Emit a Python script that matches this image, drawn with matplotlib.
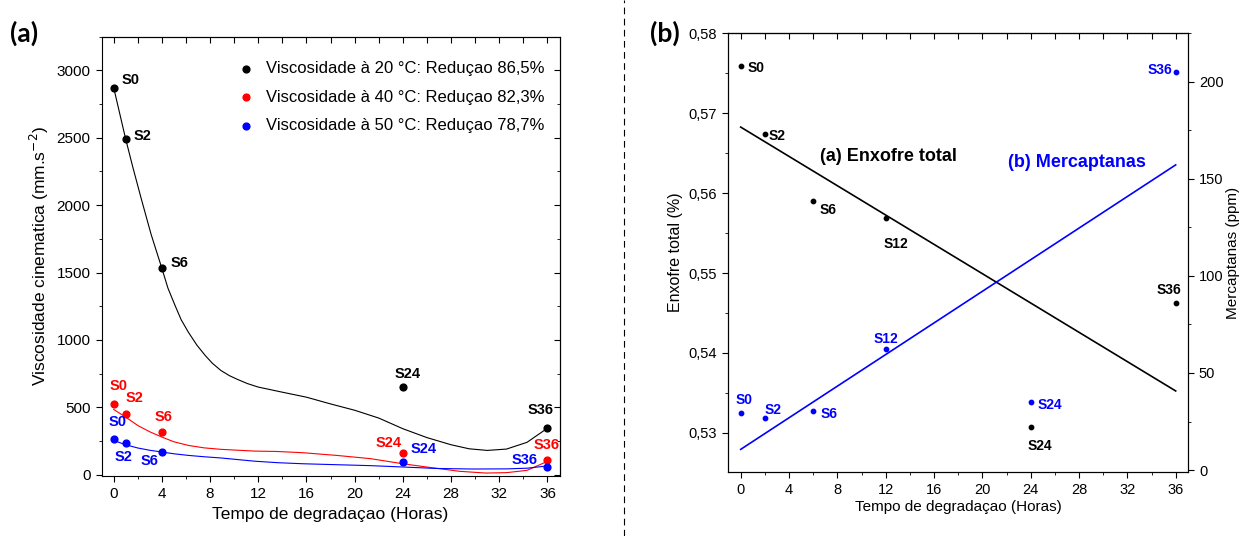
import numpy as np
import matplotlib.pyplot as plt
from matplotlib.lines import Line2D
from matplotlib.ticker import MultipleLocator, FuncFormatter

plt.rcParams['font.family'] = ['Liberation Sans', 'DejaVu Sans']

# (a) viscosity data
horas_a = [0, 1, 4, 24, 36]
labels_a = ['S0', 'S2', 'S6', 'S24', 'S36']
visc_20 = [2872, 2489, 1531, 654, 350]
visc_40 = [524, 447, 316, 163, 106]
visc_50 = [264, 232, 170, 94, 60]

# smoothed curves of the original figure
curva_20_x = [0, 1, 1.6, 2.3, 3.1, 4, 4.5, 5.1, 5.6, 6.2, 6.9, 7.6, 8.2, 8.9, 9.6, 10.3, 11.1, 12, 14, 16, 18, 20, 22, 24, 26, 28, 29.5, 31, 32.6, 34.3, 36]
curva_20_y = [2872, 2489, 2278, 2044, 1785, 1531, 1385, 1254, 1150, 1057, 962, 884, 826, 773, 735, 706, 676, 650, 612, 575, 525, 478, 420, 341, 275, 222, 192, 180, 190, 240, 345]
curva_40_x = [0, 1, 2, 3, 4, 5, 6.2, 7.5, 8.9, 11.7, 13.6, 15.7, 18.5, 21.3, 24, 26.2, 27.1, 28.7, 30.9, 32.6, 34.3, 36]
curva_40_y = [484, 427, 365, 318, 279, 244, 217, 199, 188, 175, 172, 163, 143, 119, 81, 54, 44, 25, 12, 15, 32, 99]
curva_50_x = [0, 1, 2, 3, 4, 5, 6.2, 7.5, 8.9, 11.7, 13.6, 15.7, 18.5, 21.3, 24, 26.8, 29.8, 32.6, 34.3, 36]
curva_50_y = [254, 222, 198, 181, 168, 155, 143, 133, 124, 100, 89, 81, 74, 67, 57, 46, 42, 43, 48, 65]

# (b) sulfur / mercaptans
horas_b = np.array([0, 2, 6, 12, 24, 36])
labels_b = ['S0', 'S2', 'S6', 'S12', 'S24', 'S36']
enxofre = np.array([0.5759, 0.5674, 0.5590, 0.5569, 0.5307, 0.5463])
mercaptanas = np.array([29.6, 26.7, 30.3, 62.4, 35.3, 205.3])

fig = plt.figure(figsize=(12.47, 5.36), dpi=100)
ax1 = fig.add_axes([0.0815, 0.1119, 0.3672, 0.8196])
ax2 = fig.add_axes([0.5838, 0.1194, 0.3687, 0.8185])

# ---------- panel (a)
series = [(visc_20, curva_20_x, curva_20_y, 'black', 'Viscosidade à 20 °C: Reduçao 86,5%'),
          (visc_40, curva_40_x, curva_40_y, 'red', 'Viscosidade à 40 °C: Reduçao 82,3%'),
          (visc_50, curva_50_x, curva_50_y, 'blue', 'Viscosidade à 50 °C: Reduçao 78,7%')]
for vals, cx, cy, col, lab in series:
    ax1.plot(cx, cy, color=col, lw=0.8)
    ax1.scatter(horas_a, vals, s=24, color=col, zorder=3, label=lab)

# label offsets in pixels (dx, dy, ha)
off_20 = [(8, 8, 'left'), (8, 3, 'left'), (9, 5, 'left'), (5, 13, 'center'), (-7, 18, 'center')]
off_40 = [(5, 18, 'center'), (9, 16, 'center'), (2, 15, 'center'), (-14, 10, 'center'), (-1, 15, 'center')]
off_50 = [(4, 17, 'center'), (-2, -14, 'center'), (-12, -9, 'center'), (21, 13, 'center'), (-23, 7, 'center')]
for vals, col, offs in [(visc_20, 'black', off_20), (visc_40, 'red', off_40), (visc_50, 'blue', off_50)]:
    for xv, yv, lab, (dx, dy, ha) in zip(horas_a, vals, labels_a, offs):
        ax1.annotate(lab, (xv, yv), xytext=(dx, dy), textcoords='offset pixels',
                     ha=ha, va='center', fontsize=10.5, fontweight='bold', color=col)

ax1.set_xlim(-1, 37)
ax1.set_ylim(-10, 3250)
ax1.xaxis.set_major_locator(MultipleLocator(4))
ax1.xaxis.set_minor_locator(MultipleLocator(2))
ax1.yaxis.set_major_locator(MultipleLocator(500))
ax1.yaxis.set_minor_locator(MultipleLocator(250))
ax1.tick_params(which='both', direction='out', labelsize=11)
ax1.tick_params(which='major', length=4.5)
ax1.tick_params(which='minor', length=2.5)
ax1.set_xlabel('Tempo de degradaçao (Horas)', fontsize=12.5)
ax1.set_ylabel('Viscosidade cinematica (mm.s$^{-2}$)', fontsize=12.5)
ax1.legend(loc='upper right', bbox_to_anchor=(0.968, 0.945), frameon=False, fontsize=12,
           handlelength=0.8, handletextpad=0.8, borderpad=0, borderaxespad=0, labelspacing=0.82)

top = ax1.secondary_xaxis('top')
top.xaxis.set_major_locator(MultipleLocator(2))
top.tick_params(direction='in', labeltop=False, length=4.5)
right = ax1.secondary_yaxis('right')
right.yaxis.set_major_locator(MultipleLocator(500))
right.yaxis.set_minor_locator(MultipleLocator(250))
right.tick_params(which='both', direction='in', labelright=False)
right.tick_params(which='major', length=4.5)
right.tick_params(which='minor', length=2.5)

# ---------- panel (b)
ax3 = ax2.twinx()
p1 = np.polyfit(horas_b, enxofre, 1)
p2 = np.polyfit(horas_b, mercaptanas, 1)
xl = np.array([horas_b.min(), horas_b.max()])
ax2.plot(xl, np.polyval(p1, xl), color='black', lw=1.2)
ax3.plot(xl, np.polyval(p2, xl), color='blue', lw=1.2)
ax2.scatter(horas_b, enxofre, s=10, color='black', zorder=3)
ax3.scatter(horas_b, mercaptanas, s=10, color='blue', zorder=3)

offb_s = [(7, -2, 'left'), (4, -2, 'left'), (6, -9, 'left'), (10, -26, 'center'), (9, -19, 'center'), (-7, 13, 'center')]
offb_m = [(3, 13, 'center'), (8, 8, 'center'), (16, -3, 'center'), (0, 10, 'center'), (19, -3, 'center'), (-16, 2, 'center')]
for xv, yv, lab, (dx, dy, ha) in zip(horas_b, enxofre, labels_b, offb_s):
    ax2.annotate(lab, (xv, yv), xytext=(dx, dy), textcoords='offset pixels',
                 ha=ha, va='center', fontsize=10, fontweight='bold', color='black')
for xv, yv, lab, (dx, dy, ha) in zip(horas_b, mercaptanas, labels_b, offb_m):
    ax3.annotate(lab, (xv, yv), xytext=(dx, dy), textcoords='offset pixels',
                 ha=ha, va='center', fontsize=10, fontweight='bold', color='blue')

ax2.text(0.2, 0.719, '(a) Enxofre total', transform=ax2.transAxes, fontsize=13,
         fontweight='bold', color='black', va='center')
ax2.text(0.6085, 0.705, '(b) Mercaptanas', transform=ax2.transAxes, fontsize=13,
         fontweight='bold', color='blue', va='center')

ax2.set_xlim(-1.05, 37)
ax2.set_ylim(0.5251, 0.58)
ax3.set_ylim(-1, 225)
ax2.xaxis.set_major_locator(MultipleLocator(4))
ax2.xaxis.set_minor_locator(MultipleLocator(2))
ax2.yaxis.set_major_locator(MultipleLocator(0.01))
ax2.yaxis.set_minor_locator(MultipleLocator(0.005))
ax3.yaxis.set_major_locator(MultipleLocator(50))
ax3.yaxis.set_minor_locator(MultipleLocator(25))
comma = FuncFormatter(lambda v, p: f'{v:.2f}'.replace('.', ','))
ax2.yaxis.set_major_formatter(comma)
for a in (ax2, ax3):
    a.tick_params(which='both', direction='out', labelsize=10.5)
    a.tick_params(which='major', length=4.5)
    a.tick_params(which='minor', length=2.5)
top2 = ax2.secondary_xaxis('top')
top2.xaxis.set_major_locator(MultipleLocator(2))
top2.tick_params(direction='in', labeltop=False, length=4.5)
ax2.set_xlabel('Tempo de degradaçao (Horas)', fontsize=11, labelpad=2)
ax2.set_ylabel('Enxofre total (%)', fontsize=11.5)
ax3.set_ylabel('Mercaptanas (ppm)', fontsize=11, labelpad=2)

fig.text(0.008, 0.937, '(a)', fontsize=19, fontweight='bold', family='Lato', va='center')
fig.text(0.521, 0.937, '(b)', fontsize=19, fontweight='bold', family='Lato', va='center')
fig.add_artist(Line2D([0.5004, 0.5004], [0, 1], transform=fig.transFigure,
                      color='black', lw=0.8, ls=(0, (6, 4))))

fig.savefig('out.png', dpi=100)
